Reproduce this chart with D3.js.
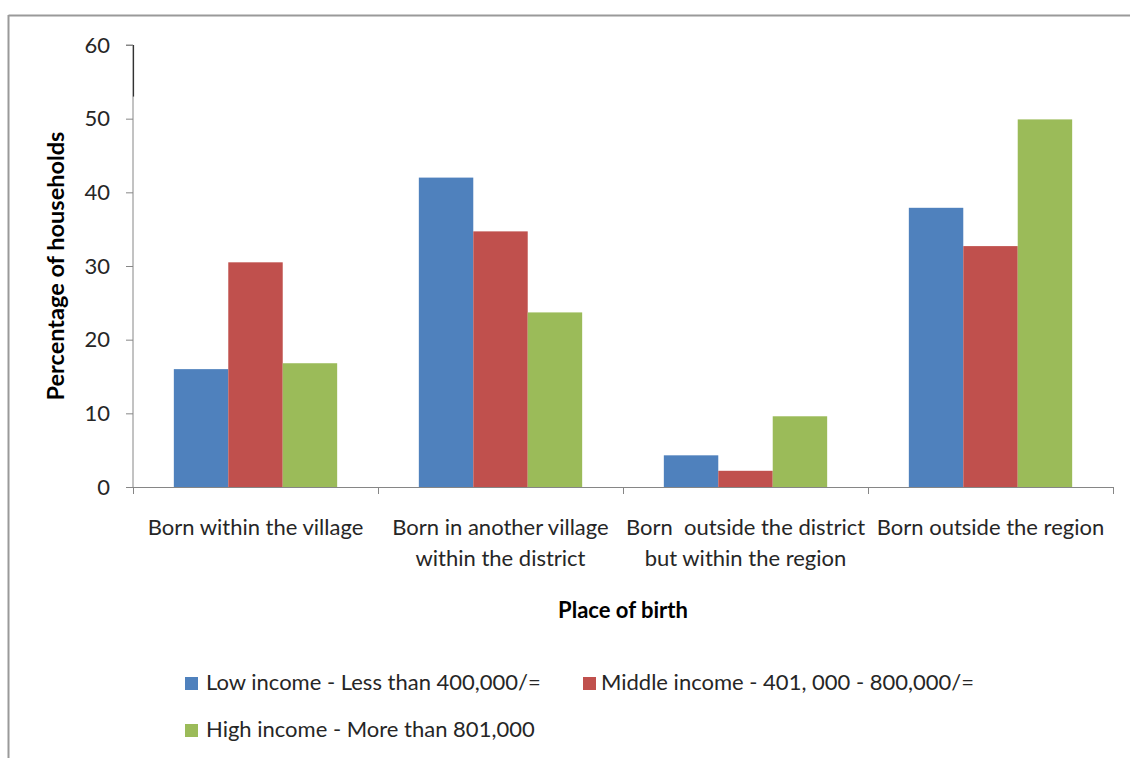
<!DOCTYPE html>
<html>
<head>
<meta charset="utf-8">
<script src="https://cdn.jsdelivr.net/npm/d3@7"></script>
<style>
  html, body { margin: 0; padding: 0; background: #fff; }
  svg { display: block; font-family: Lato, "Open Sans", sans-serif; }
</style>
</head>
<body>
<svg id="chart" width="1130" height="758"></svg>
<script>
const categories = [
  ["Born within the village"],
  ["Born in another village", "within the district"],
  ["Born  outside the district", "but within the region"],
  ["Born outside the region"]
];
const seriesNames = [
  "Low income - Less than 400,000/=",
  "Middle income - 401, 000 - 800,000/=",
  "High income - More than 801,000"
];
const lowIncome    = [16.0, 42.0, 4.3, 37.9];
const middleIncome = [30.5, 34.7, 2.2, 32.7];
const highIncome   = [16.8, 23.7, 9.6, 49.9];
const yTicks = [0, 10, 20, 30, 40, 50, 60];
const colors = ["#4F81BD", "#C0504D", "#9BBB59"];

const series = [lowIncome, middleIncome, highIncome];
const svg = d3.select("#chart");

// outer frame (top and left edges visible)
svg.append("line").attr("x1", 8.5).attr("x2", 1130).attr("y1", 15.5).attr("y2", 15.5)
  .attr("stroke", "#9a9a9a").attr("stroke-width", 2);
svg.append("line").attr("x1", 8.5).attr("x2", 8.5).attr("y1", 15).attr("y2", 758)
  .attr("stroke", "#9a9a9a").attr("stroke-width", 2);

const plot = { left: 133, right: 1113, top: 45, bottom: 487 };

const x0 = d3.scaleBand().domain(d3.range(categories.length))
  .range([plot.left, plot.right]).paddingInner(0).paddingOuter(0);
const bw = x0.bandwidth();
const barW = bw / (3 + 1.5);
const x1 = d3.scaleBand().domain(d3.range(3)).range([0.75 * barW, 3.75 * barW]).padding(0);

const y = d3.scaleLinear().domain([0, 60]).range([plot.bottom, plot.top]);

// bars
const groups = svg.append("g").selectAll("g").data(categories).join("g")
  .attr("transform", (d, i) => `translate(${x0(i)},0)`);
groups.selectAll("rect")
  .data((d, i) => series.map((s, k) => ({ k, v: s[i] })))
  .join("rect")
  .attr("x", d => x1(d.k))
  .attr("width", x1.bandwidth())
  .attr("y", d => y(d.v))
  .attr("height", d => y(0) - y(d.v))
  .attr("fill", d => colors[d.k]);

// y axis
const yAxis = svg.append("g").attr("transform", `translate(${plot.left},0)`)
  .call(d3.axisLeft(y).tickValues(yTicks).tickSize(7).tickPadding(16));
yAxis.select(".domain").attr("stroke", "#868686").attr("d", `M-7,${plot.top}H0V${plot.bottom}`);
yAxis.selectAll(".tick line").attr("stroke", "#868686");
yAxis.selectAll(".tick text").attr("font-size", 22).attr("fill", "#262626")
  .attr("font-family", "Lato, sans-serif");
// darker upper segment of the axis line, as in the reference
svg.append("line").attr("x1", plot.left + 0.5).attr("x2", plot.left + 0.5)
  .attr("y1", y(60)).attr("y2", y(53)).attr("stroke", "#333").attr("stroke-width", 1.2);

// x axis line + category boundary ticks
const xAxisG = svg.append("g");
xAxisG.append("line").attr("x1", plot.left - 7).attr("x2", plot.right)
  .attr("y1", plot.bottom + 0.5).attr("y2", plot.bottom + 0.5).attr("stroke", "#868686");
const bounds = d3.range(categories.length + 1).map(i => i < categories.length ? x0(i) : plot.right);
xAxisG.selectAll(".bt").data(bounds).join("line")
  .attr("x1", d => Math.round(d) + 0.5).attr("x2", d => Math.round(d) + 0.5)
  .attr("y1", plot.bottom).attr("y2", plot.bottom + 7).attr("stroke", "#868686");

// category labels
const catLabels = svg.append("g").selectAll("text").data(categories).join("text")
  .attr("x", (d, i) => x0(i) + bw / 2)
  .attr("y", 535)
  .attr("text-anchor", "middle")
  .attr("font-size", 22)
  .attr("fill", "#262626")
  .style("white-space", "pre")
  .attr("xml:space", "preserve");
catLabels.selectAll("tspan").data(d => d).join("tspan")
  .attr("x", function() { return d3.select(this.parentNode).attr("x"); })
  .attr("dy", (d, i) => i === 0 ? 0 : 31)
  .text(d => d);

// axis titles
svg.append("text").attr("x", (plot.left + plot.right) / 2).attr("y", 618)
  .attr("text-anchor", "middle").attr("font-size", 22).attr("font-weight", "bold")
  .attr("fill", "#000").text("Place of birth");
svg.append("text").attr("transform", `translate(64,266) rotate(-90)`)
  .attr("text-anchor", "middle").attr("font-size", 23.5).attr("font-weight", "bold")
  .attr("fill", "#000").text("Percentage of households");

// legend
const legendPos = [[185, 690, 206], [583, 690, 601], [185, 737, 206]];
const leg = svg.append("g").selectAll("g").data(seriesNames).join("g");
leg.append("rect")
  .attr("x", (d, i) => legendPos[i][0]).attr("y", (d, i) => legendPos[i][1] - 13)
  .attr("width", 13).attr("height", 13)
  .attr("fill", (d, i) => colors[i]);
leg.append("text")
  .attr("x", (d, i) => legendPos[i][2]).attr("y", (d, i) => legendPos[i][1])
  .attr("font-size", 22)
  .attr("fill", "#262626").text(d => d);
</script>
</body>
</html>
